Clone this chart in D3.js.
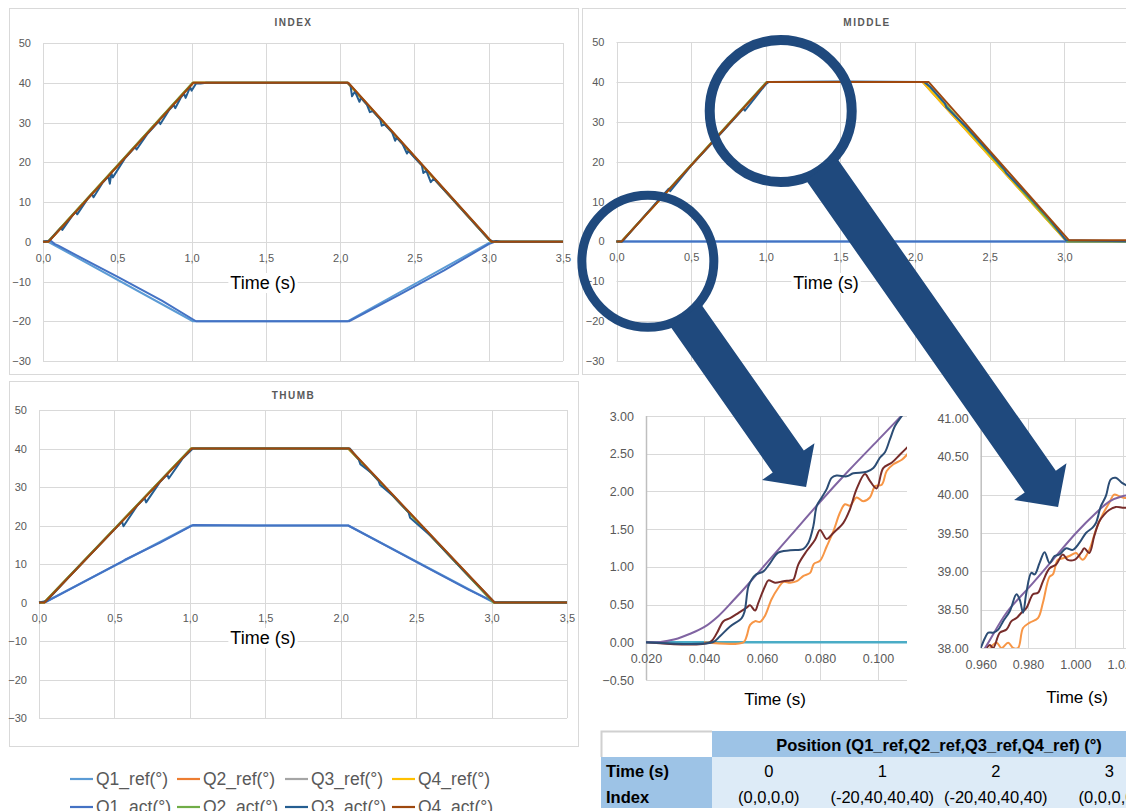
<!DOCTYPE html>
<html>
<head>
<meta charset="utf-8">
<script src="https://cdn.jsdelivr.net/npm/d3@7"></script>
<style>
  body { margin: 0; background: #fff; overflow: hidden; }
  svg { display: block; font-family: 'Liberation Sans', Arial, sans-serif; }
</style>
</head>
<body>
<svg id="chart" width="1126" height="811"></svg>
<script>
// ---------- data: finger panels ----------
const seriesNames = ['Q1_ref(°)', 'Q2_ref(°)', 'Q3_ref(°)', 'Q4_ref(°)', 'Q1_act(°)', 'Q2_act(°)', 'Q3_act(°)', 'Q4_act(°)'];
const seriesColors = ['#5b9bd5', '#ed7d31', '#a5a5a5', '#ffc000', '#4472c4', '#70ad47', '#255e91', '#9e480e'];
const timeTicks = [0, 0.5, 1, 1.5, 2, 2.5, 3, 3.5];
const angleTicks = [-30, -20, -10, 0, 10, 20, 30, 40, 50];

// reference trajectories (same timing for every finger)
const refTime = [0, 0.035, 1.01, 2.05, 3.015, 3.5];
const refFlexion = [0, 0, 40, 40, 0, 0];
const indexQ1Ref = [0, 0, -20, -20, 0, 0];
const middleQ1Ref = [0, 0, 0, 0, 0, 0];
const thumbQ1Ref = [0, 0, 20, 20, 0, 0];

// measured, INDEX
const indexQ1ActTime = [0, 0.05, 0.08, 0.1, 0.3, 0.5, 0.8, 1.03, 2.06, 2.4, 2.7, 3.0, 3.04, 3.5];
const indexQ1Act = [0, 0.3, -0.6, -0.9, -4.9, -8.8, -14.8, -20, -20, -13.3, -7.2, -0.6, 0, 0];
const indexQ2ActTime = [0, 0.033, 1.007, 2.052, 3.017, 3.5];
const indexQ2Act = [0, 0, 40, 40, 0, 0];
const indexQ3ActTime = [0, 0.04, 0.12, 0.13, 0.2, 0.22, 0.23, 0.3, 0.33, 0.34, 0.4, 0.44, 0.45, 0.46, 0.47, 0.55, 0.62, 0.63, 0.7, 0.78, 0.79, 0.85, 0.88, 0.89, 0.93, 0.95, 0.96, 0.99, 1.0, 1.03, 1.06, 1.1,
  2.05, 2.07, 2.08, 2.1, 2.13, 2.14, 2.18, 2.2, 2.22, 2.27, 2.28, 2.3, 2.35, 2.37, 2.38, 2.42, 2.45, 2.46, 2.5, 2.55, 2.56, 2.58, 2.61, 2.63, 2.68, 2.75, 2.8, 2.87, 2.95, 3.0, 3.03, 3.05, 3.08, 3.5];
const indexQ3Act = [0, 0.2, 3.5, 3.0, 6.7, 7.5, 6.9, 10.8, 12.0, 11.2, 14.8, 16.4, 14.6, 17.2, 16.2, 20.9, 23.8, 23.2, 27.0, 30.3, 29.6, 33.2, 34.4, 33.6, 36.4, 37.2, 36.2, 38.9, 38.0, 39.8, 39.8, 40,
  40, 39.2, 36.6, 37.8, 35.2, 36.2, 34.5, 32.6, 32.9, 30.8, 29.2, 29.5, 27.5, 25.4, 26.2, 24.6, 22.2, 22.9, 21.2, 19.2, 17.3, 17.9, 15.0, 15.9, 13.8, 11.0, 8.9, 6.0, 2.7, 0.6, 0, 0.2, 0, 0];
const indexQ4ActTime = [0, 0.037, 1.012, 2.055, 3.02, 3.5];
const indexQ4Act = [0, 0, 40, 40, 0, 0];

// measured, MIDDLE
const middleQ1ActTime = [0, 3.5];
const middleQ1Act = [0, 0];
const middleQ2ActTime = [0, 0.033, 1.005, 2.07, 3.02, 3.5];
const middleQ2Act = [0, 0, 40, 40, 0, 0];
const middleQ3ActTime = [0, 0.04, 0.2, 0.35, 0.36, 0.5, 0.7, 0.85, 0.86, 1.0, 1.02, 1.5, 2.06, 2.1, 2.2, 2.21, 2.35, 2.5, 2.6, 2.61, 2.75, 2.9, 3.01, 3.5];
const middleQ3Act = [0, 0, 6.9, 13.2, 12.6, 19.0, 27.1, 33.3, 32.8, 39.4, 40, 40.1, 40, 38.8, 34.6, 33.6, 28.4, 22.2, 18.0, 17.2, 11.8, 5.6, 0.3, 0];
const middleQ4ActTime = [0, 0.035, 1.01, 2.09, 3.03, 3.5];
const middleQ4Act = [0, 0, 40, 40, 0.3, 0.3];

// measured, THUMB
const thumbQ1ActTime = [0, 0.05, 0.3, 0.55, 0.57, 0.8, 1.02, 1.5, 2.05, 2.3, 2.6, 2.85, 3.02, 3.5];
const thumbQ1Act = [0, 0.2, 5.4, 10.6, 11.1, 15.5, 20.1, 20, 20, 14.8, 8.5, 3.3, 0.1, 0];
const thumbQ2ActTime = [0, 0.033, 1.007, 2.052, 3.012, 3.5];
const thumbQ2Act = [0, 0, 40, 40, 0, 0];
const thumbQ3ActTime = [0, 0.05, 0.2, 0.4, 0.55, 0.56, 0.65, 0.7, 0.71, 0.8, 0.85, 0.86, 0.95, 1.02, 1.5, 2.06, 2.12, 2.13, 2.2, 2.25, 2.26, 2.35, 2.45, 2.46, 2.6, 2.8, 3.02, 3.5];
const thumbQ3Act = [0, 0.4, 6.7, 14.9, 21.0, 19.8, 25.1, 27.1, 26.0, 31.2, 33.3, 32.2, 37.3, 40, 40, 40, 37.1, 35.9, 33.8, 31.7, 30.6, 27.6, 23.4, 22.0, 17.2, 8.9, 0, 0];
const thumbQ4ActTime = [0, 0.037, 1.012, 2.056, 3.02, 3.5];
const thumbQ4Act = [0, 0, 40, 40, 0, 0];

// ---------- data: zoomed insets ----------
const insetColors = ['#4bacc6', '#f79646', '#772c2a', '#8064a2', '#2c4d75'];
const startTicksX = [0.02, 0.04, 0.06, 0.08, 0.10];
const startTicksY = [-0.5, 0, 0.5, 1, 1.5, 2, 2.5, 3];
const startCyanTime = [0.02, 0.111];
const startCyan = [0, 0];
const startOrangeTime = [0.040, 0.0536, 0.0547, 0.0559, 0.0576, 0.0593, 0.061, 0.0633, 0.0656, 0.0674, 0.0697, 0.072, 0.0743, 0.0766, 0.0779, 0.080, 0.0823, 0.0846, 0.0869, 0.0886, 0.0903, 0.0926, 0.0949, 0.0972, 0.099, 0.1013, 0.103, 0.1053, 0.1082, 0.1105];
const startOrange = [0, 0, 0.08, 0.23, 0.28, 0.27, 0.35, 0.57, 0.72, 0.80, 0.79, 0.81, 0.88, 0.92, 1.04, 1.08, 1.27, 1.47, 1.72, 1.83, 1.81, 1.92, 1.87, 1.92, 2.07, 2.09, 2.27, 2.36, 2.42, 2.51];
const startBrownTime = [0.020, 0.042, 0.0444, 0.0467, 0.049, 0.0519, 0.0547, 0.0559, 0.0576, 0.0587, 0.061, 0.0622, 0.0645, 0.0674, 0.0697, 0.0708, 0.0725, 0.0754, 0.0783, 0.080, 0.0823, 0.0846, 0.088, 0.0903, 0.0926, 0.0955, 0.0972, 0.0995, 0.1018, 0.1047, 0.1076, 0.1105];
const startBrown = [0, 0, 0.12, 0.28, 0.32, 0.39, 0.46, 0.49, 0.42, 0.52, 0.74, 0.82, 0.79, 0.81, 0.82, 0.83, 1.03, 1.21, 1.36, 1.49, 1.37, 1.45, 1.58, 1.76, 2.03, 2.23, 2.14, 2.04, 2.31, 2.38, 2.49, 2.6];
const startPurpleTime = [0.020, 0.025, 0.030, 0.035, 0.040, 0.045, 0.050, 0.055, 0.060, 0.070, 0.080, 0.090, 0.100, 0.110];
const startPurple = [0, 0.005, 0.04, 0.11, 0.20, 0.35, 0.55, 0.76, 0.98, 1.42, 1.86, 2.28, 2.68, 3.08];
const startBlueTime = [0.020, 0.043, 0.0455, 0.049, 0.053, 0.054, 0.0553, 0.0564, 0.058, 0.0605, 0.0628, 0.0656, 0.0697, 0.0743, 0.076, 0.0777, 0.0789, 0.0806, 0.0823, 0.084, 0.0857, 0.0892, 0.0915, 0.0961, 0.0984, 0.1007, 0.1024, 0.1041, 0.1059, 0.1082, 0.111];
const startBlue = [0, 0, 0.08, 0.21, 0.32, 0.41, 0.74, 0.83, 0.90, 0.94, 1.05, 1.19, 1.22, 1.24, 1.32, 1.54, 1.81, 1.92, 2.03, 2.18, 2.21, 2.20, 2.24, 2.26, 2.31, 2.45, 2.52, 2.69, 2.87, 3.0, 3.15];

const topTicksX = [0.96, 0.98, 1.00, 1.02];
const topTicksY = [38, 38.5, 39, 39.5, 40, 40.5, 41];
const topOrangeTime = [0.9639, 0.9667, 0.9688, 0.9716, 0.9737, 0.9758, 0.9779, 0.9807, 0.9842, 0.9863, 0.9891, 0.9905, 0.9926, 0.9947, 0.9975, 1.0003, 1.0031, 1.0059, 1.0087, 1.0115, 1.0143, 1.0164, 1.0185, 1.0206, 1.023];
const topOrange = [38.0, 38.07, 38.0, 38.07, 38.0, 38.0, 38.26, 38.33, 38.39, 38.59, 38.93, 38.96, 39.15, 39.17, 39.2, 39.24, 39.15, 39.28, 39.54, 39.74, 39.89, 40.0, 39.98, 39.96, 39.95];
const topBrownTime = [0.9625, 0.9639, 0.9653, 0.9681, 0.9709, 0.973, 0.9751, 0.9772, 0.9793, 0.9821, 0.9842, 0.9863, 0.9891, 0.9919, 0.9947, 0.9968, 0.9996, 1.0024, 1.0038, 1.0059, 1.008, 1.0101, 1.0122, 1.0143, 1.0171, 1.0199, 1.023];
const topBrown = [38.0, 38.04, 38.0, 38.2, 38.24, 38.35, 38.39, 38.46, 38.52, 38.7, 38.72, 38.87, 39.04, 39.09, 39.22, 39.15, 39.15, 39.24, 39.3, 39.24, 39.46, 39.65, 39.74, 39.80, 39.84, 39.83, 39.83];
const topPurpleTime = [0.958, 0.9618, 0.9709, 0.9807, 0.9905, 1.0003, 1.0087, 1.0143, 1.0199, 1.025];
const topPurple = [37.85, 38.0, 38.46, 38.80, 39.15, 39.5, 39.76, 39.91, 39.98, 40.0];
const topBlueTime = [0.9585, 0.960, 0.9618, 0.9632, 0.9653, 0.9674, 0.9695, 0.9723, 0.9751, 0.9765, 0.9779, 0.9793, 0.9814, 0.9828, 0.9849, 0.987, 0.9891, 0.9912, 0.9933, 0.9961, 0.9989, 1.0017, 1.0045, 1.0073, 1.0087, 1.0108, 1.0129, 1.015, 1.0171, 1.0199, 1.023];
const topBlue = [37.9, 38.0, 38.13, 38.2, 38.2, 38.24, 38.35, 38.48, 38.70, 38.63, 38.46, 38.72, 38.98, 38.96, 39.11, 39.25, 39.11, 39.2, 39.22, 39.3, 39.28, 39.37, 39.5, 39.57, 39.63, 39.85, 39.98, 40.2, 40.22, 40.15, 40.1];

// ---------- data: table ----------
const tableHeader = 'Position (Q1_ref,Q2_ref,Q3_ref,Q4_ref) (°)';
const tableRowLabels = ['Time (s)', 'Index'];
const tableTimes = ['0', '1', '2', '3'];
const tableIndexPos = ['(0,0,0,0)', '(-20,40,40,40)', '(-20,40,40,40)', '(0,0,0,0)'];

// ---------- layout ----------
const svg = d3.select('#chart');
const gridColor = '#d9d9d9';
const labelColor = '#595959';
const annotColor = '#1f497d';

const toPoints = (times, values) => times.map((t, i) => [t, values[i]]);

const panels = [
  {
    title: 'INDEX', box: [9, 8, 569, 366], plot: [43, 563, 43, 361], timeLabel: [263, 283],
    series: [[refTime, indexQ1Ref], [refTime, refFlexion], [refTime, refFlexion], [refTime, refFlexion],
      [indexQ1ActTime, indexQ1Act], [indexQ2ActTime, indexQ2Act], [indexQ3ActTime, indexQ3Act], [indexQ4ActTime, indexQ4Act]]
  },
  {
    title: 'MIDDLE', box: [582, 8, 570, 366], plot: [616.5, 1139, 42, 361], timeLabel: [826, 283],
    series: [[refTime, middleQ1Ref], [refTime, refFlexion], [refTime, refFlexion], [refTime, refFlexion],
      [middleQ1ActTime, middleQ1Act], [middleQ2ActTime, middleQ2Act], [middleQ3ActTime, middleQ3Act], [middleQ4ActTime, middleQ4Act]]
  },
  {
    title: 'THUMB', box: [9, 381, 569, 365], plot: [39, 567, 410, 718], timeLabel: [263, 638],
    series: [[refTime, thumbQ1Ref], [refTime, refFlexion], [refTime, refFlexion], [refTime, refFlexion],
      [thumbQ1ActTime, thumbQ1Act], [thumbQ2ActTime, thumbQ2Act], [thumbQ3ActTime, thumbQ3Act], [thumbQ4ActTime, thumbQ4Act]]
  }
];

function cleanAxis(sel, size) {
  sel.select('.domain').remove();
  sel.attr('font-family', null).attr('font-size', size);
  sel.selectAll('text').attr('fill', labelColor);
}

// "Time (s)" title with white box behind it, like the Excel axis title
function timeTitle(g, cx, cy, size) {
  const t = g.append('text')
    .attr('x', cx).attr('y', cy)
    .attr('text-anchor', 'middle').attr('dominant-baseline', 'central')
    .attr('font-size', size).attr('fill', '#000')
    .text('Time (s)');
  const b = t.node().getBBox();
  g.insert('rect', () => t.node())
    .attr('x', b.x - 2).attr('y', b.y).attr('width', b.width + 4).attr('height', b.height)
    .attr('fill', '#fff');
}

function drawPanel(p) {
  const g = svg.append('g');
  const [bx, by, bw, bh] = p.box;
  g.append('rect')
    .attr('x', bx + 0.5).attr('y', by + 0.5).attr('width', bw).attr('height', bh)
    .attr('fill', '#fff').attr('stroke', gridColor);

  g.append('text')
    .attr('x', bx + bw / 2).attr('y', by + 14)
    .attr('text-anchor', 'middle').attr('dominant-baseline', 'central')
    .attr('font-size', 10).attr('font-weight', 'bold').attr('letter-spacing', 1.5)
    .attr('fill', labelColor).text(p.title);

  const x = d3.scaleLinear().domain([0, 3.5]).range([p.plot[0], p.plot[1]]);
  const y = d3.scaleLinear().domain([-30, 50]).range([p.plot[3], p.plot[2]]);

  g.append('g').selectAll('line').data(angleTicks).join('line')
    .attr('x1', x(0)).attr('x2', x(3.5))
    .attr('y1', d => Math.round(y(d)) + 0.5).attr('y2', d => Math.round(y(d)) + 0.5)
    .attr('stroke', gridColor);
  g.append('g').selectAll('line').data(timeTicks).join('line')
    .attr('x1', d => Math.round(x(d)) + 0.5).attr('x2', d => Math.round(x(d)) + 0.5)
    .attr('y1', y(50)).attr('y2', y(-30))
    .attr('stroke', gridColor);

  g.append('g')
    .attr('transform', `translate(0,${y(0)})`)
    .call(d3.axisBottom(x).tickValues(timeTicks).tickSize(0).tickPadding(12)
      .tickFormat(d => d3.format('.1f')(d).replace('.', ',')))
    .call(a => cleanAxis(a, 11));
  g.append('g')
    .attr('transform', `translate(${x(0)},0)`)
    .call(d3.axisLeft(y).tickValues(angleTicks).tickSize(0).tickPadding(12))
    .call(a => cleanAxis(a, 11));

  timeTitle(g, p.timeLabel[0], p.timeLabel[1], 18);

  const line = d3.line().x(d => x(d[0])).y(d => y(d[1]));
  p.series.forEach(([times, values], i) => {
    g.append('path')
      .attr('d', line(toPoints(times, values)))
      .attr('fill', 'none')
      .attr('stroke', seriesColors[i])
      .attr('stroke-width', 2)
      .attr('stroke-linejoin', 'round');
  });
  return { x, y };
}

const scales = panels.map(drawPanel);

// ---------- legend ----------
const legendX = [70, 177, 285, 392];
const legend = svg.append('g');
seriesNames.forEach((name, i) => {
  const lx = legendX[i % 4];
  const ly = i < 4 ? 779 : 807;
  legend.append('line')
    .attr('x1', lx).attr('x2', lx + 23).attr('y1', ly).attr('y2', ly)
    .attr('stroke', seriesColors[i]).attr('stroke-width', 2.2);
  legend.append('text')
    .attr('x', lx + 26).attr('y', ly)
    .attr('dominant-baseline', 'central')
    .attr('font-size', 17.5).attr('fill', labelColor)
    .text(name);
});

// ---------- insets ----------
const insets = [
  {
    id: 'clipStart', plot: [646, 907, 416, 680], xDomain: [0.02, 0.11], yDomain: [-0.5, 3],
    xTicks: startTicksX, yTicks: startTicksY, axisAt: 0, timeLabel: [775, 699],
    series: [[startCyanTime, startCyan, 0], [startOrangeTime, startOrange, 1], [startBrownTime, startBrown, 2],
      [startPurpleTime, startPurple, 3], [startBlueTime, startBlue, 4]]
  },
  {
    id: 'clipTop', plot: [980.7, 1146.3, 418, 648], xDomain: [0.96, 1.03], yDomain: [38, 41],
    xTicks: topTicksX, yTicks: topTicksY, axisAt: 38, timeLabel: [1077, 697],
    series: [[topOrangeTime, topOrange, 1], [topBrownTime, topBrown, 2],
      [topPurpleTime, topPurple, 3], [topBlueTime, topBlue, 4]]
  }
];

function drawInset(p) {
  const g = svg.append('g');
  const [x0, x1, y0, y1] = p.plot;
  const x = d3.scaleLinear().domain(p.xDomain).range([x0, x1]);
  const y = d3.scaleLinear().domain(p.yDomain).range([y1, y0]);

  g.append('clipPath').attr('id', p.id)
    .append('rect').attr('x', x0).attr('y', y0).attr('width', x1 - x0).attr('height', y1 - y0);

  g.append('g').selectAll('line').data(p.yTicks).join('line')
    .attr('x1', x0).attr('x2', x1)
    .attr('y1', d => Math.round(y(d)) + 0.5).attr('y2', d => Math.round(y(d)) + 0.5)
    .attr('stroke', gridColor);
  g.append('g').selectAll('line').data(p.xTicks.slice(1)).join('line')
    .attr('x1', d => Math.round(x(d)) + 0.5).attr('x2', d => Math.round(x(d)) + 0.5)
    .attr('y1', y0).attr('y2', y1)
    .attr('stroke', gridColor);
  g.append('line')
    .attr('x1', x0 + 0.5).attr('x2', x0 + 0.5).attr('y1', y0).attr('y2', y1)
    .attr('stroke', '#bfbfbf').attr('stroke-width', 1.5);

  g.append('g')
    .attr('transform', `translate(0,${y(p.axisAt)})`)
    .call(d3.axisBottom(x).tickValues(p.xTicks).tickSize(0).tickPadding(12).tickFormat(d3.format('.3f')))
    .call(a => cleanAxis(a, 12.5));
  g.append('g')
    .attr('transform', `translate(${x0},0)`)
    .call(d3.axisLeft(y).tickValues(p.yTicks).tickSize(0).tickPadding(12).tickFormat(d3.format('.2f')))
    .call(a => cleanAxis(a, 12.5));

  timeTitle(g, p.timeLabel[0], p.timeLabel[1], 17);

  const line = d3.line().x(d => x(d[0])).y(d => y(d[1])).curve(d3.curveCatmullRom);
  const lines = g.append('g').attr('clip-path', `url(#${p.id})`);
  p.series.forEach(([times, values, c]) => {
    lines.append('path')
      .attr('d', line(toPoints(times, values)))
      .attr('fill', 'none')
      .attr('stroke', insetColors[c])
      .attr('stroke-width', c === 0 ? 2.6 : 2)
      .attr('stroke-linejoin', 'round');
  });
  return { x, y };
}

const insetScales = insets.map(drawInset);

// ---------- table ----------
const table = svg.append('g');
const colX = [712, 825.5, 939, 1052.5, 1166];
const rowY = [731, 757, 783, 808];
table.append('rect').attr('x', 601).attr('y', rowY[0]).attr('width', colX[0] - 601).attr('height', rowY[1] - rowY[0]).attr('fill', '#fff');
table.append('path')
  .attr('d', `M601.5,${rowY[1]}V${rowY[0] + 0.5}H${colX[0]}`)
  .attr('fill', 'none').attr('stroke', '#d0d0d0').attr('stroke-width', 2);
table.append('rect').attr('x', colX[0]).attr('y', rowY[0]).attr('width', colX[4] - colX[0]).attr('height', rowY[1] - rowY[0]).attr('fill', '#9dc3e6');
table.append('rect').attr('x', 601).attr('y', rowY[1]).attr('width', colX[0] - 601).attr('height', rowY[3] - rowY[1]).attr('fill', '#9dc3e6');
table.append('rect').attr('x', colX[0]).attr('y', rowY[1]).attr('width', colX[4] - colX[0]).attr('height', rowY[3] - rowY[1]).attr('fill', '#ddebf7');

table.append('text')
  .attr('x', (colX[0] + colX[4]) / 2).attr('y', (rowY[0] + rowY[1]) / 2 + 1)
  .attr('text-anchor', 'middle').attr('dominant-baseline', 'central')
  .attr('font-size', 16.5).attr('font-weight', 'bold').attr('fill', '#000')
  .text(tableHeader);
tableRowLabels.forEach((lab, r) => {
  table.append('text')
    .attr('x', 606).attr('y', (rowY[r + 1] + rowY[r + 2]) / 2 + 1)
    .attr('dominant-baseline', 'central')
    .attr('font-size', 16.5).attr('font-weight', 'bold').attr('fill', '#000')
    .text(lab);
});
[tableTimes, tableIndexPos].forEach((row, r) => {
  row.forEach((val, c) => {
    table.append('text')
      .attr('x', (colX[c] + colX[c + 1]) / 2).attr('y', (rowY[r + 1] + rowY[r + 2]) / 2 + 1)
      .attr('text-anchor', 'middle').attr('dominant-baseline', 'central')
      .attr('font-size', 16.5).attr('fill', '#000')
      .text(val);
  });
});

// ---------- magnifier circles and arrows ----------
// circle centres in MIDDLE panel units, arrow tips in inset units
const middle = scales[1];
const magnifiers = [
  { center: [0.21, -5], radius: 66, width: 9, tip: [0.0752, 2.06], inset: 0 },
  { center: [1.10, 32.7], radius: 71, width: 10, tip: [0.9927, 39.84], inset: 1 }
];
const annot = svg.append('g');
magnifiers.forEach(m => {
  const cx = middle.x(m.center[0]), cy = middle.y(m.center[1]);
  const s = insetScales[m.inset];
  const tx = s.x(m.tip[0]), ty = s.y(m.tip[1]);
  annot.append('circle')
    .attr('cx', cx).attr('cy', cy).attr('r', m.radius)
    .attr('fill', 'none').attr('stroke', annotColor).attr('stroke-width', m.width);

  const len = Math.hypot(tx - cx, ty - cy);
  const u = [(tx - cx) / len, (ty - cy) / len];
  const n = [-u[1], u[0]];
  const sx = cx + u[0] * m.radius, sy = cy + u[1] * m.radius;
  const headLen = 31, headHalf = 32, shaftHalf = 19;
  const bx = tx - u[0] * headLen, by = ty - u[1] * headLen;
  const pts = [
    [sx + n[0] * shaftHalf, sy + n[1] * shaftHalf],
    [bx + n[0] * shaftHalf, by + n[1] * shaftHalf],
    [bx + n[0] * headHalf, by + n[1] * headHalf],
    [tx, ty],
    [bx - n[0] * headHalf, by - n[1] * headHalf],
    [bx - n[0] * shaftHalf, by - n[1] * shaftHalf],
    [sx - n[0] * shaftHalf, sy - n[1] * shaftHalf]
  ];
  annot.append('path')
    .attr('d', d3.line()(pts) + 'Z')
    .attr('fill', annotColor);
});
</script>
</body>
</html>
